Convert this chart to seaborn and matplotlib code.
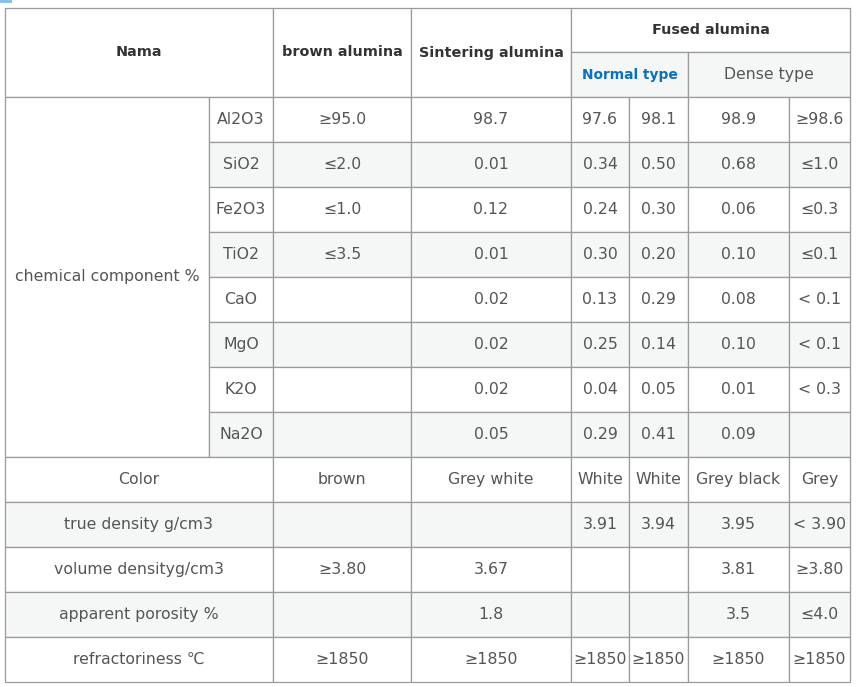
import matplotlib
matplotlib.use("Agg")
import matplotlib.pyplot as plt
from matplotlib.patches import Rectangle
import seaborn as sns

# ---------------- data ----------------
header_name = "Nama"
header_brown = "brown alumina"
header_sinter = "Sintering alumina"
header_fused = "Fused alumina"
header_normal = "Normal type"
header_dense = "Dense type"

group_label = "chemical component %"
components = ["Al2O3", "SiO2", "Fe2O3", "TiO2", "CaO", "MgO", "K2O", "Na2O"]
brown = ["≥95.0", "≤2.0", "≤1.0", "≤3.5", "", "", "", ""]
sintering = ["98.7", "0.01", "0.12", "0.01", "0.02", "0.02", "0.02", "0.05"]
normal_a = ["97.6", "0.34", "0.24", "0.30", "0.13", "0.25", "0.04", "0.29"]
normal_b = ["98.1", "0.50", "0.30", "0.20", "0.29", "0.14", "0.05", "0.41"]
dense_a = ["98.9", "0.68", "0.06", "0.10", "0.08", "0.10", "0.01", "0.09"]
dense_b = ["≥98.6", "≤1.0", "≤0.3", "≤0.1", "< 0.1", "< 0.1", "< 0.3", ""]

properties = ["Color", "true density g/cm3", "volume densityg/cm3",
              "apparent porosity %", "refractoriness ℃"]
prop_brown = ["brown", "", "≥3.80", "", "≥1850"]
prop_sinter = ["Grey white", "", "3.67", "1.8", "≥1850"]
prop_normal_a = ["White", "3.91", "", "", "≥1850"]
prop_normal_b = ["White", "3.94", "", "", "≥1850"]
prop_dense_a = ["Grey black", "3.95", "3.81", "3.5", "≥1850"]
prop_dense_b = ["Grey", "< 3.90", "≥3.80", "≤4.0", "≥1850"]

# ---------------- layout ----------------
sns.set_theme(style="white")
plt.rcParams["font.family"] = ["DejaVu Sans"]

W, H = 857, 687
xs = [5, 209, 273, 411, 571, 629, 688, 789, 850]
ys = [8, 52, 97, 142, 187, 232, 277, 322, 367, 412, 457, 502, 547, 592, 637, 682]

LINE = "#9a9a9a"
GREY = "#f5f7f7"
TXT = "#555555"
HDR = "#333333"
BLUE = "#0a6fbf"
FS = 11.3
FS_HDR = 10.4
FS_BLUE = 9.9

fig = plt.figure(figsize=(W / 100, H / 100), dpi=100)
ax = fig.add_axes([0, 0, 1, 1])
ax.set_xlim(0, W)
ax.set_ylim(H, 0)
ax.axis("off")


def cell(c0, c1, r0, r1, text="", fill="white", color=TXT, weight="normal", size=FS):
    x0, x1 = xs[c0], xs[c1]
    y0, y1 = ys[r0], ys[r1]
    ax.add_patch(Rectangle((x0, y0), x1 - x0, y1 - y0, facecolor=fill,
                           edgecolor=LINE, linewidth=0.9, zorder=1))
    if text:
        ax.text((x0 + x1) / 2, (y0 + y1) / 2, text, ha="center", va="center",
                fontsize=size, color=color, fontweight=weight, zorder=3)


# small blue mark at top-left
ax.add_patch(Rectangle((0, 0), 12, 2.5, facecolor="#86c3ea", edgecolor="none"))

# header
cell(0, 2, 0, 2, header_name, color=HDR, weight="bold", size=FS_HDR)
cell(2, 3, 0, 2, header_brown, color=HDR, weight="bold", size=FS_HDR)
cell(3, 4, 0, 2, header_sinter, color=HDR, weight="bold", size=FS_HDR)
cell(4, 8, 0, 1, header_fused, color=HDR, weight="bold", size=FS_HDR)
cell(4, 6, 1, 2, header_normal, fill=GREY, color=BLUE, weight="bold", size=FS_BLUE)
cell(6, 8, 1, 2, header_dense, fill=GREY)

# chemical components
cell(0, 1, 2, 2 + len(components), group_label)
for i, comp in enumerate(components):
    r = 2 + i
    fill = GREY if i % 2 == 1 else "white"
    vals = [brown[i], sintering[i], normal_a[i], normal_b[i], dense_a[i], dense_b[i]]
    cell(1, 2, r, r + 1, comp, fill=fill)
    for j, v in enumerate(vals):
        cell(2 + j, 3 + j, r, r + 1, v, fill=fill)

# properties
base = 2 + len(components)
for i, prop in enumerate(properties):
    r = base + i
    fill = GREY if i % 2 == 1 else "white"
    vals = [prop_brown[i], prop_sinter[i], prop_normal_a[i], prop_normal_b[i],
            prop_dense_a[i], prop_dense_b[i]]
    cell(0, 2, r, r + 1, prop, fill=fill)
    for j, v in enumerate(vals):
        cell(2 + j, 3 + j, r, r + 1, v, fill=fill)

fig.savefig("out.png", dpi=100, facecolor="white")
